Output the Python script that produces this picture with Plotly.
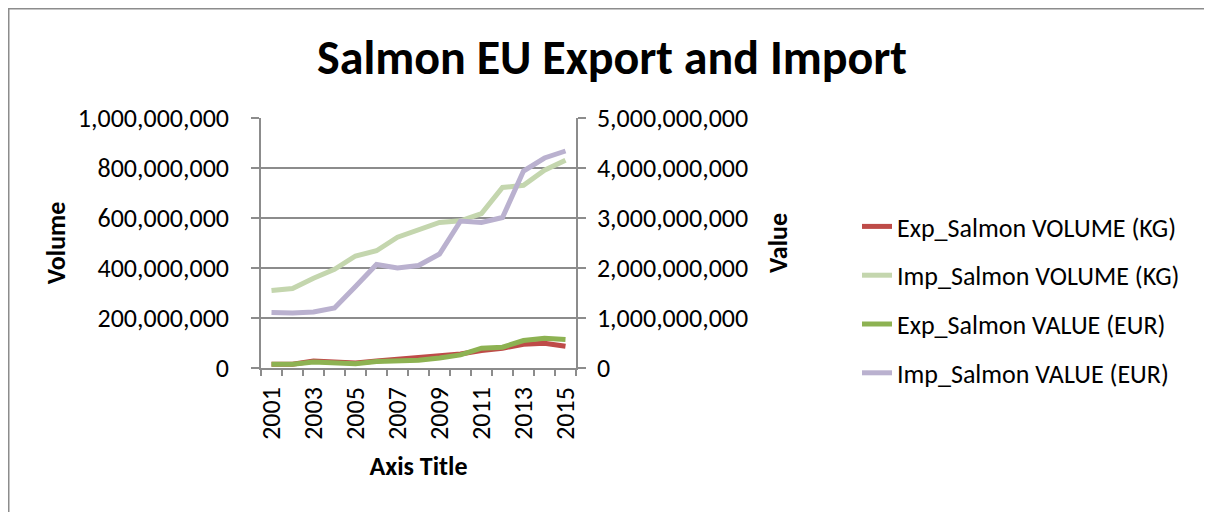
import plotly.graph_objects as go

years = list(range(2001, 2016))
exp_volume = [15e6, 15e6, 28e6, 24e6, 20e6, 28e6, 35e6, 38e6, 46e6, 56e6, 70e6, 79e6, 95e6, 99e6, 87e6]
imp_volume = [310e6, 318e6, 359e6, 395e6, 448e6, 469e6, 523e6, 555e6, 582e6, 589e6, 618e6, 722e6, 731e6, 791e6, 831e6]
exp_value = [74e6, 74e6, 121e6, 107e6, 87e6, 128e6, 148e6, 154e6, 201e6, 262e6, 396e6, 416e6, 550e6, 597e6, 570e6]
imp_value = [1.11e9, 1.10e9, 1.12e9, 1.20e9, 1.63e9, 2.07e9, 2.00e9, 2.05e9, 2.28e9, 2.94e9, 2.91e9, 3.01e9, 3.94e9, 4.20e9, 4.34e9]
year_ticks = [2001, 2003, 2005, 2007, 2009, 2011, 2013, 2015]
year_bounds = [y - 0.5 for y in years] + [years[-1] + 0.5]

FONT = "Carlito, Lato, sans-serif"
GRID = "#8C8C8C"

W, H = 1204, 504
L, R, T, B = 253, 636, 110, 144
PW, PH = W - L - R, H - T - B

fig = go.Figure()
series = [
    ("Exp_Salmon VOLUME (KG)", exp_volume, "y", "#BE4B48"),
    ("Imp_Salmon VOLUME (KG)", imp_volume, "y", "#C4D6AE"),
    ("Exp_Salmon VALUE (EUR)", exp_value, "y2", "#8DB252"),
    ("Imp_Salmon VALUE (EUR)", imp_value, "y2", "#BAB1CF"),
]
for name, vals, ax, col in series:
    fig.add_trace(go.Scatter(
        x=years, y=vals, name=name, yaxis=ax, mode="lines",
        line=dict(color=col, width=5), legendgroup=name,
    ))

fig.update_layout(
    width=W, height=H,
    margin=dict(l=L, r=R, t=T, b=B),
    paper_bgcolor="white", plot_bgcolor="white",
    font=dict(family=FONT, size=26, color="black"),
    title=dict(text="<b>Salmon EU Export and Import</b>", x=604 / W, xanchor="center",
               y=1 - 49 / H, yanchor="middle", yref="container",
               font=dict(family=FONT, size=48, color="black")),
    showlegend=True,
    legend=dict(x=(849 - L) / PW, xanchor="left", y=(H - B - 195) / PH, yanchor="top",
                font=dict(family=FONT, size=26), tracegroupgap=12, itemwidth=30,
                bgcolor="rgba(0,0,0,0)"),
    xaxis=dict(
        range=[2000.5, 2015.5], tickmode="array", tickvals=year_ticks,
        ticktext=[str(y) for y in year_ticks], tickangle=-90,
        ticks="outside", ticklen=6, tickcolor="rgba(0,0,0,0)",
        ticklabelstandoff=1,
        minor=dict(tickmode="array", tickvals=year_bounds, ticks="outside", ticklen=6,
                   tickcolor=GRID, tickwidth=1.5, showgrid=False),
        showline=True, linecolor=GRID, linewidth=1.5, showgrid=False, zeroline=False,
        title=dict(text="<b>Axis Title</b>", font=dict(family=FONT, size=26), standoff=18),
    ),
    yaxis=dict(
        range=[0, 1e9], dtick=2e8, tickformat=",", ticks="outside", ticklen=8,
        tickcolor=GRID, tickwidth=1.5, showline=True, linecolor=GRID, linewidth=1.5,
        showgrid=True, gridcolor=GRID, gridwidth=1.5, zeroline=False,
        ticklabelstandoff=17,
        title=dict(text="<b>Volume</b>", font=dict(family=FONT, size=26), standoff=5),
    ),
    yaxis2=dict(
        range=[0, 5e9], dtick=1e9, tickformat=",", overlaying="y", side="right",
        ticks="outside", ticklen=8, tickcolor=GRID, tickwidth=1.5,
        showline=True, linecolor=GRID, linewidth=1.5, showgrid=False, zeroline=False,
        ticklabelstandoff=6,
        title=dict(text="<b>Value</b>", font=dict(family=FONT, size=26), standoff=22),
    ),
    shapes=[dict(type="rect", xref="paper", yref="paper",
                 x0=(0.5 - L) / PW, x1=(W + 30 - L) / PW,
                 y0=(H - B - (H + 30)) / PH, y1=(H - B - 0.5) / PH,
                 line=dict(color="#8C8C8C", width=2), fillcolor="rgba(0,0,0,0)", layer="below")],
)

fig.write_html("out.html")
